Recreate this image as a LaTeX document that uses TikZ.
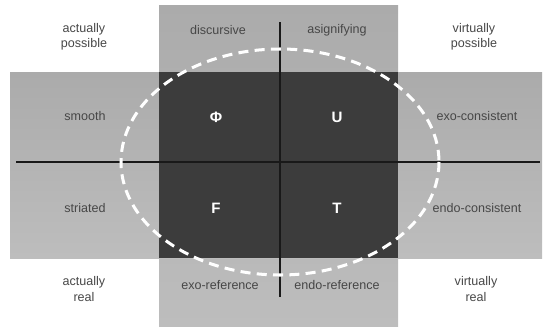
\documentclass[tikz,border=0pt]{standalone}
\usepackage{fontspec}
\setmainfont{Liberation Sans}
\usetikzlibrary{positioning}
\definecolor{bandgray}{HTML}{ABABAB}
\definecolor{bandlight}{HTML}{BDBDBD}
\definecolor{coregray}{HTML}{3C3C3C}
\definecolor{labelgray}{HTML}{474747}
\tikzset{
  band/.style={draw=none, top color=bandgray, bottom color=bandlight},
  core/.style={draw=none, fill=coregray},
  axisline/.style={line width=1.6pt, black!90},
  horizon/.style={draw=white, line width=2.4pt, dash pattern=on 8pt off 5pt},
  lbl/.style={font=\normalsize, text=labelgray, align=center, inner sep=1pt},
  mode/.style={font=\large\bfseries, text=white, inner sep=1pt}
}

\begin{document}
\begin{tikzpicture}[x=0.028cm, y=-0.028cm]
  \useasboundingbox (0,0) rectangle (552,331);
  % the two grey bands and the dark overlap
  \fill[band] (159,5) rectangle (398,326);
  \fill[band] (10,72) rectangle (542,258);
  \fill[core] (159,72) rectangle (398,258);

  % axes
  \coordinate (west) at (16,162);
  \coordinate (east) at (540,162);
  \coordinate (north) at (280,22);
  \coordinate (south) at (280,297);
  \draw[axisline] (west) -- (east);
  \draw[axisline] (north) -- (south);

  % dashed horizon
  \draw[horizon] (280,162) ellipse [x radius=159, y radius=113];

  % corner labels
  \node[lbl] (actpos) at (84,37) {actually\\possible};
  \node[lbl] (virpos) at (474,37) {virtually\\possible};
  \node[lbl] (actreal) at (84,289) {actually\\real};
  \node[lbl] (virreal) at (476,289) {virtually\\real};

  % band labels
  \node[lbl] (disc) at (218,30) {discursive};
  \node[lbl] (asig) at (337,30) {asignifying};
  \node[lbl] (smooth) at (85,116) {smooth};
  \node[lbl] (striated) at (85,208) {striated};
  \node[lbl] (exocons) at (477,116) {exo-consistent};
  \node[lbl] (endocons) at (477,208) {endo-consistent};
  \node[lbl] (exoref) at (220,285) {exo-reference};
  \node[lbl] (endoref) at (337,285) {endo-reference};

  % the four quadrants
  \node[mode] (phi) at (216,117) {Φ};
  \node[mode] (u) at (337,117) {U};
  \node[mode] (f) at (216,208) {F};
  \node[mode] (t) at (337,208) {T};
\end{tikzpicture}
\end{document}
